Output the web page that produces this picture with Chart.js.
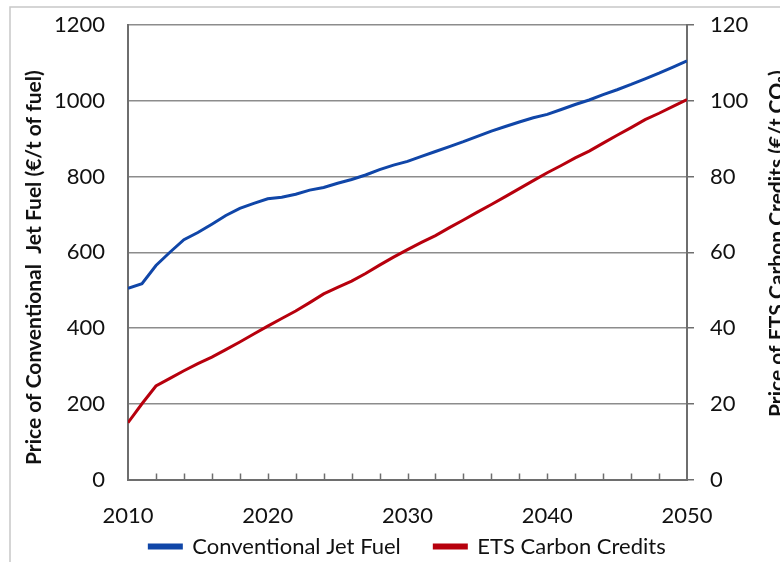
<!DOCTYPE html>
<html>
<head>
<meta charset="utf-8">
<script src="https://cdn.jsdelivr.net/npm/chart.js@4.4.1/dist/chart.umd.min.js"></script>
<style>
  html, body { margin: 0; padding: 0; background: #fff; }
  #wrap { width: 780px; height: 562px; position: relative; }
</style>
</head>
<body>
<div id="wrap"><canvas id="chart"></canvas></div>
<script>
const years = [2010, 2011, 2012, 2013, 2014, 2015, 2016, 2017, 2018, 2019,
  2020, 2021, 2022, 2023, 2024, 2025, 2026, 2027, 2028, 2029,
  2030, 2031, 2032, 2033, 2034, 2035, 2036, 2037, 2038, 2039,
  2040, 2041, 2042, 2043, 2044, 2045, 2046, 2047, 2048, 2049, 2050];

// €/t of fuel (left axis)
const jetFuel = [505, 517, 565, 600, 633, 652, 674, 697, 716, 729,
  741, 745, 753, 764, 771, 782, 792, 804, 818, 830,
  840, 853, 866, 879, 892, 906, 920, 932, 944, 955,
  964, 977, 990, 1002, 1016, 1029, 1043, 1058, 1073, 1089, 1105];

// €/t CO2 (right axis)
const carbonCredits = [15, 20, 24.7, 26.7, 28.7, 30.6, 32.3, 34.3, 36.3, 38.4,
  40.5, 42.5, 44.5, 46.7, 49, 50.7, 52.4, 54.4, 56.6, 58.7,
  60.7, 62.6, 64.4, 66.5, 68.5, 70.6, 72.6, 74.7, 76.8, 78.9,
  81, 82.9, 84.9, 86.7, 88.8, 90.9, 92.9, 95, 96.7, 98.5, 100.3];

const seriesNames = ['Conventional Jet Fuel', 'ETS Carbon Credits'];
const leftTitle = 'Price of Conventional  Jet Fuel (€/t of fuel)';
const rightTitle = 'Price of ETS Carbon Credits (€/t CO₂)';

const FONT = 'Lato, "Open Sans", sans-serif';
const blue = '#1046a8';
const red = '#b7000d';
const axisGray = '#6e6e6e';
const gridGray = '#8c8c8c';

function drawTitle(c, text, x, y) {
  c.save();
  c.fillStyle = '#111';
  c.font = 'bold 21px ' + FONT;
  c.textAlign = 'left';
  c.textBaseline = 'middle';
  c.translate(x, y);
  c.rotate(-Math.PI / 2);
  c.fillText(text, 0, 0);
  c.restore();
}

// frame, rotated titles and inward x tick marks
const extras = {
  id: 'extras',
  beforeDraw(chart) {
    const c = chart.ctx;
    c.save();
    c.strokeStyle = '#c8c8c8';
    c.lineWidth = 1.5;
    c.strokeRect(10, 7, 820, 620);
    c.restore();
  },
  afterDraw(chart) {
    const c = chart.ctx;
    const area = chart.chartArea;
    const x = chart.scales.x;
    c.save();
    c.strokeStyle = axisGray;
    c.lineWidth = 1.5;
    years.filter(y => y % 2 === 0 && y > 2010 && y < 2050).forEach(y => {
      const px = Math.round(x.getPixelForValue(y)) + 0.5;
      c.beginPath();
      c.moveTo(px, area.bottom);
      c.lineTo(px, area.bottom - 6);
      c.stroke();
    });
    c.restore();
    drawTitle(c, leftTitle, 34, 465);
    drawTitle(c, rightTitle, 777, 417);
  }
};

// fixed axis widths, and no extra room reserved above/below for tick labels
const fitY = w => s => {
  s.width = w;
  s.paddingTop = 0;
  s.paddingBottom = 0;
};

new Chart(document.getElementById('chart'), {
  type: 'line',
  data: {
    datasets: [
      {
        label: seriesNames[0],
        data: years.map((y, i) => ({ x: y, y: jetFuel[i] })),
        borderColor: blue,
        backgroundColor: blue,
        borderWidth: 3,
        pointRadius: 0,
        yAxisID: 'y'
      },
      {
        label: seriesNames[1],
        data: years.map((y, i) => ({ x: y, y: carbonCredits[i] })),
        borderColor: red,
        backgroundColor: red,
        borderWidth: 3,
        pointRadius: 0,
        yAxisID: 'y1'
      }
    ]
  },
  options: {
    responsive: true,
    maintainAspectRatio: false,
    animation: false,
    layout: { padding: { top: 25, left: 0, right: 0, bottom: -5.5 } },
    plugins: {
      tooltip: { enabled: false },
      legend: {
        position: 'bottom',
        fullSize: false,
        labels: {
          color: '#111',
          font: { family: FONT, size: 22 },
          boxWidth: 32,
          boxHeight: 3,
          padding: 6,
          generateLabels: chart => {
            const items = Chart.defaults.plugins.legend.labels.generateLabels(chart);
            items[0].text += '\u2003\u2002';
            return items;
          }
        }
      }
    },
    scales: {
      x: {
        type: 'linear',
        min: 2010,
        max: 2050,
        afterFit: s => { s.height = 50; },
        border: { display: true, color: axisGray, width: 2 },
        grid: { drawOnChartArea: false, drawTicks: false },
        ticks: {
          stepSize: 10,
          padding: 23,
          color: '#111',
          font: { family: FONT, size: 22 },
          callback: v => String(v)
        }
      },
      y: {
        position: 'left',
        min: 0,
        max: 1200,
        afterFit: fitY(128),
        border: { display: true, color: axisGray, width: 2 },
        grid: { color: gridGray, lineWidth: 1.5, drawTicks: false },
        ticks: {
          stepSize: 200,
          padding: 23,
          color: '#111',
          font: { family: FONT, size: 22 },
          callback: v => String(v)
        }
      },
      y1: {
        position: 'right',
        min: 0,
        max: 120,
        afterFit: fitY(93),
        border: { display: true, color: axisGray, width: 2 },
        grid: { drawOnChartArea: false, drawTicks: true, tickLength: 7, color: axisGray, lineWidth: 1.5 },
        ticks: {
          stepSize: 20,
          padding: 16,
          color: '#111',
          font: { family: FONT, size: 22 },
          callback: v => String(v)
        }
      }
    }
  },
  plugins: [extras]
});
</script>
</body>
</html>
